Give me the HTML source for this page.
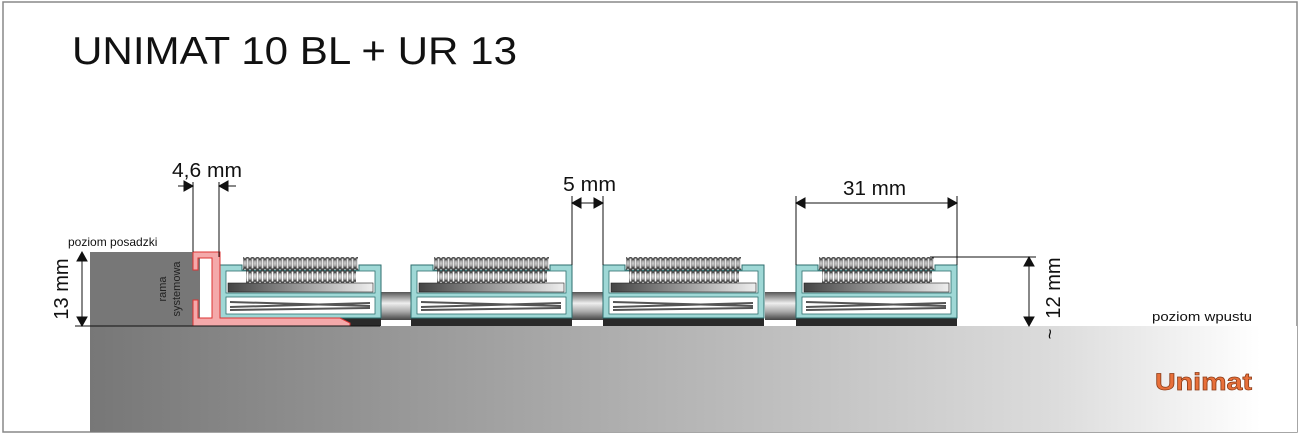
<!DOCTYPE html>
<html><head><meta charset="utf-8"><style>
html,body{margin:0;padding:0;background:#fff;}
svg{display:block;}
text{font-family:"Liberation Sans",sans-serif;}
</style></head><body>
<svg width="1300" height="436" viewBox="0 0 1300 436" xmlns="http://www.w3.org/2000/svg">
<defs>
<linearGradient id="gnd" x1="0" x2="1" y1="0" y2="0">
<stop offset="0" stop-color="#777"/><stop offset="0.45" stop-color="#b0b0b0"/><stop offset="0.8" stop-color="#dcdcdc"/><stop offset="0.97" stop-color="#fff"/><stop offset="1" stop-color="#fff"/></linearGradient>
<linearGradient id="rod" x1="0" x2="0" y1="0" y2="1">
<stop offset="0" stop-color="#555"/><stop offset="0.4" stop-color="#eee"/><stop offset="0.7" stop-color="#aaa"/><stop offset="1" stop-color="#444"/></linearGradient>
<linearGradient id="bar" x1="0" x2="1" y1="0" y2="0">
<stop offset="0" stop-color="#444"/><stop offset="0.6" stop-color="#aaa"/><stop offset="1" stop-color="#eee"/></linearGradient>
<pattern id="brush" width="5" height="13" patternUnits="userSpaceOnUse">
<ellipse cx="2.5" cy="6.5" rx="3" ry="6" fill="none" stroke="#333" stroke-width="1"/>
<ellipse cx="2.5" cy="6.5" rx="1.4" ry="5.5" fill="none" stroke="#777" stroke-width="0.8"/>
</pattern>
<g id="mod">
<rect x="0" y="61" width="161" height="8" fill="#2a2a2a"/>
<path d="M0,8 H22 V13 H139 V8 H161 V61 H0 Z" fill="#9fd8d6" stroke="#2e6e6e" stroke-width="1"/>
<rect x="6" y="14" width="149" height="22" fill="#fff" stroke="#2e6e6e" stroke-width="0.8"/>
<rect x="6" y="40" width="149" height="17" fill="#fff" stroke="#2e6e6e" stroke-width="0.8"/>
<rect x="8" y="26" width="145" height="9" fill="url(#bar)" stroke="#222" stroke-width="0.6"/>
<g stroke="#555" stroke-width="2">
<line x1="10" y1="45" x2="150" y2="49"/><line x1="10" y1="50" x2="150" y2="46"/><line x1="10" y1="53" x2="150" y2="51"/>
</g>
<rect x="23" y="0" width="115" height="13" fill="#ccc" fill-opacity="0.5"/>
<rect x="23" y="0" width="115" height="13" fill="url(#brush)"/>
<rect x="26" y="11" width="110" height="15" fill="url(#brush)"/>
</g>
<g id="rodg"><rect x="0" y="0" width="31" height="28" fill="url(#rod)"/></g>
</defs>
<rect x="3" y="2" width="1294" height="430" fill="#fff" stroke="#888" stroke-width="1.5"/>
<text x="72" y="64" font-size="39" fill="#111" textLength="445" lengthAdjust="spacingAndGlyphs">UNIMAT 10 BL + UR 13</text>
<rect x="90" y="326" width="1207" height="106" fill="url(#gnd)"/>
<rect x="90" y="252" width="110" height="74" fill="#777"/>
<use href="#rodg" transform="translate(380,292)"/>
<use href="#rodg" transform="translate(572,292)"/>
<use href="#rodg" transform="translate(765,292)"/>
<use href="#mod" transform="translate(220,257)"/>
<use href="#mod" transform="translate(411,257)"/>
<use href="#mod" transform="translate(603,257)"/>
<use href="#mod" transform="translate(796,257)"/>
<!-- red frame -->
<g fill="#f4a9aa" stroke="#d33" stroke-width="1">
<path d="M193,252 H220 V318 H340 L350,323 V326 H193 V300 H198 V318 H212 V258 H198 V270 H193 Z"/>
</g>
<g stroke="#111" stroke-width="1" fill="#111">
<line x1="75" y1="326" x2="380" y2="326"/>
<line x1="82" y1="256" x2="82" y2="322"/>
<path d="M82,252 l-5,9 h10 z M82,326 l-5,-9 h10 z"/>
<line x1="193" y1="182" x2="193" y2="252"/><line x1="219" y1="182" x2="219" y2="257"/>
<line x1="178" y1="186" x2="190" y2="186"/><path d="M193,186 l-9,-5 v10 z"/>
<line x1="222" y1="186" x2="236" y2="186"/><path d="M219,186 l9,-5 v10 z"/>
<line x1="572" y1="196" x2="572" y2="265"/><line x1="603" y1="196" x2="603" y2="265"/>
<line x1="572" y1="203" x2="603" y2="203"/><path d="M572,203 l9,-5 v10 z M603,203 l-9,-5 v10 z"/>
<line x1="796" y1="196" x2="796" y2="265"/><line x1="957" y1="196" x2="957" y2="265"/>
<line x1="800" y1="203" x2="953" y2="203"/><path d="M796,203 l9,-5 v10 z M957,203 l-9,-5 v10 z"/>
<line x1="930" y1="257" x2="1036" y2="257"/>
<line x1="1029" y1="262" x2="1029" y2="321"/>
<path d="M1029,257 l-5,9 h10 z M1029,326 l-5,-9 h10 z"/>
</g>
<text x="172" y="177" font-size="20" fill="#111" textLength="70" lengthAdjust="spacingAndGlyphs">4,6 mm</text>
<text x="563" y="191" font-size="20" fill="#111" textLength="53" lengthAdjust="spacingAndGlyphs">5 mm</text>
<text x="843" y="195" font-size="20" fill="#111" textLength="63" lengthAdjust="spacingAndGlyphs">31 mm</text>
<text x="68" y="246" font-size="12" fill="#111">poziom posadzki</text>
<text x="1152" y="321" font-size="13" fill="#111" textLength="100" lengthAdjust="spacingAndGlyphs">poziom wpustu</text>
<text transform="translate(68,289) rotate(-90)" font-size="20" fill="#111" text-anchor="middle">13 mm</text>
<text transform="translate(1060,288) rotate(-90)" font-size="20" fill="#111" text-anchor="middle">12 mm</text>
<text transform="translate(1056,334) rotate(-90)" font-size="18" fill="#111" text-anchor="middle">~</text>
<text transform="translate(166,289) rotate(-90)" font-size="11" fill="#222" text-anchor="middle">rama</text>
<text transform="translate(180,289) rotate(-90)" font-size="11" fill="#222" text-anchor="middle">systemowa</text>
<text x="1155" y="390" font-size="24" font-weight="bold" fill="#e8703a" stroke="#8a3a16" stroke-width="0.7" textLength="97" lengthAdjust="spacingAndGlyphs">Unimat</text>
</svg>
</body></html>
